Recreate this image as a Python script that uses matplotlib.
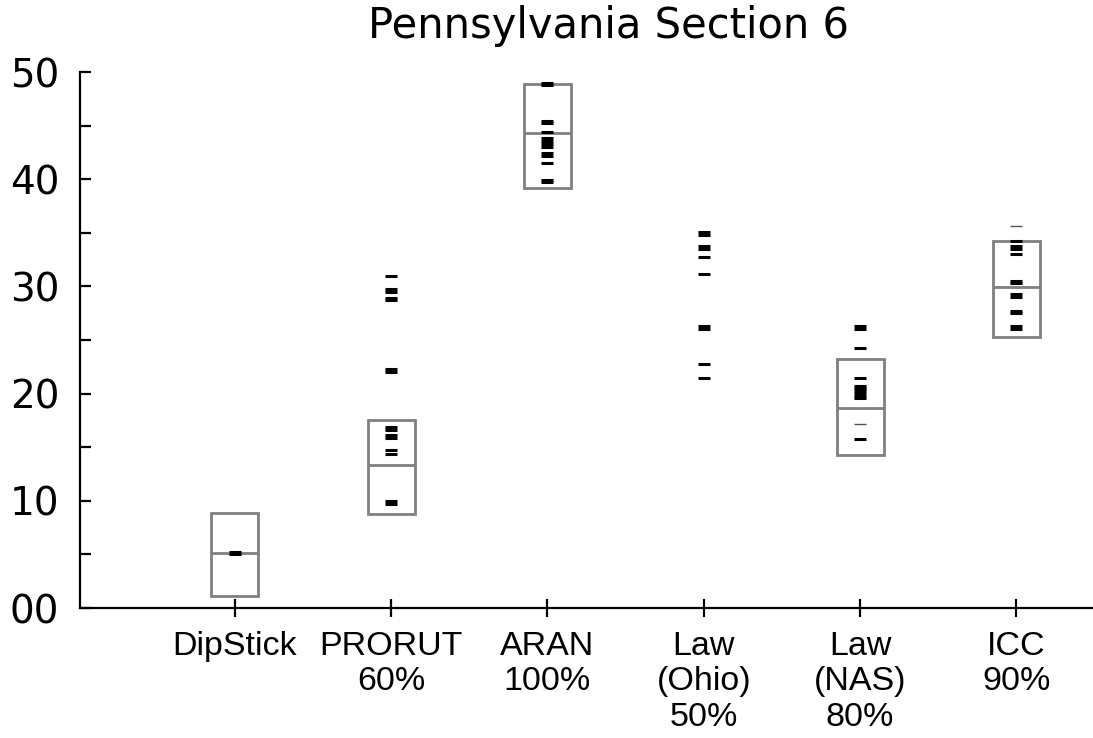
import numpy as np
import matplotlib
matplotlib.use("Agg")
import matplotlib.pyplot as plt
from matplotlib.ticker import MultipleLocator

# ---- data ----
categories = ["DipStick", "PRORUT\n60%", "ARAN\n100%", "Law\n(Ohio)\n50%", "Law\n(NAS)\n80%", "ICC\n90%"]

dipstick_pts = [5.0, 5.2]
prorut_pts = [31.0, 29.5, 29.75, 28.7, 28.95, 22.0, 22.25, 16.6, 16.85, 15.9, 16.15, 14.4, 14.7, 9.7, 10.0]
aran_pts = [48.75, 49.0, 45.2, 45.45, 44.4, 43.05, 43.3, 43.55, 43.8, 42.2, 42.45, 41.5, 39.7, 39.95]
ohio_pts = [34.8, 35.1, 33.5, 33.75, 32.7, 31.2, 26.05, 26.3, 22.8, 21.5]
nas_pts = [26.05, 26.3, 24.3, 21.5, 19.55, 19.8, 20.05, 20.3, 20.55, 20.75, 15.8]
icc_pts = [34.2, 33.5, 33.75, 33.0, 30.3, 30.55, 29.0, 29.25, 27.5, 27.75, 26.05, 26.3]
points = [dipstick_pts, prorut_pts, aran_pts, ohio_pts, nas_pts, icc_pts]

# faint (thin) marks
faint_pts = [[], [], [], [], [17.2], [35.6]]

# boxes: low, median, high (NaN = no box)
box_low = [1.1, 8.8, 39.2, np.nan, 14.3, 25.3]
box_med = [5.1, 13.3, 44.3, np.nan, 18.7, 29.97]
box_high = [8.86, 17.5, 48.9, np.nan, 23.2, 34.2]

yticks = [0, 10, 20, 30, 40, 50]
ytick_labels = ["00", "10", "20", "30", "40", "50"]
title = "Pennsylvania Section 6"

# ---- figure ----
W, H = 1093, 738
fig = plt.figure(figsize=(W / 100, H / 100), dpi=100)
ax = fig.add_axes([80 / W, (H - 608) / H, (W - 80) / W, (608 - 72) / H])

xpos = np.arange(1, len(categories) + 1)
box_w = 0.30
gray = "#808080"

for i, x in enumerate(xpos):
    if not np.isnan(box_low[i]):
        ax.bar(x, box_high[i] - box_low[i], bottom=box_low[i], width=box_w,
               fill=False, edgecolor=gray, linewidth=2.0, zorder=2)
        ax.hlines(box_med[i], x - box_w / 2, x + box_w / 2, colors=gray,
                  linewidth=2.0, zorder=2)
    ys = points[i]
    ax.plot([x] * len(ys), ys, linestyle="none", marker="_", markersize=8,
            markeredgewidth=2.2, color="black", zorder=3)
    fs = faint_pts[i]
    if fs:
        ax.plot([x] * len(fs), fs, linestyle="none", marker="_", markersize=8,
                markeredgewidth=1.0, color="#555555", zorder=3)

ax.set_xlim(0.01, 6.49)
ax.set_ylim(0, 50)

for s in ["top", "right"]:
    ax.spines[s].set_visible(False)
for s in ["left", "bottom"]:
    ax.spines[s].set_linewidth(1.6)
    ax.spines[s].set_color("black")

ax.set_yticks(yticks)
ax.set_yticklabels(ytick_labels, family="DejaVu Sans", fontsize=28)
ax.yaxis.set_minor_locator(MultipleLocator(5))
ax.tick_params(axis="y", which="both", direction="in", length=8, width=1.6, pad=15)

ax.set_xticks(xpos)
ax.set_xticklabels(categories, family="Liberation Sans", fontsize=24.5, linespacing=1.18)
ax.tick_params(axis="x", which="major", direction="inout", length=13, width=1.6, pad=10)

fig.text(608 / W, 1 - 38 / H, title, ha="center", va="baseline",
         family="DejaVu Sans", fontsize=30)

fig.savefig("out.png", dpi=100)
